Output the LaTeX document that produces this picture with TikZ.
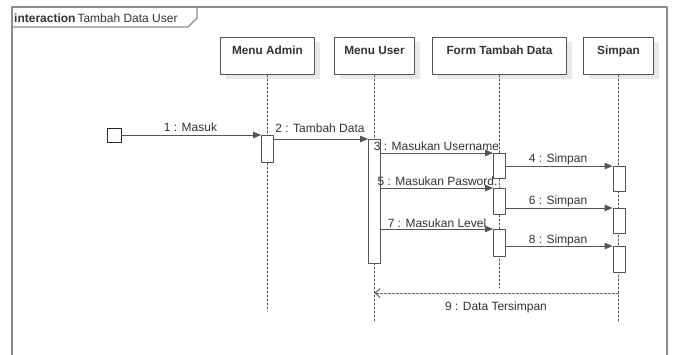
\documentclass[tikz,border=0pt]{standalone}
\usepackage{fontspec}
\setmainfont{Liberation Sans}
\usetikzlibrary{arrows.meta,shadows}
\definecolor{qqline}{rgb}{0.33,0.33,0.33}
\definecolor{qqtext}{rgb}{0.2,0.2,0.2}
\definecolor{qqframe}{rgb}{0.55,0.55,0.55}

\begin{document}
\begin{tikzpicture}[line cap=round,line join=round,>={Triangle[length=8pt,width=6.5pt]},x=1pt,y=-1pt,
    head/.style={draw=qqline,fill=white,line width=0.9pt,anchor=north,inner xsep=4pt,inner ysep=8pt,
      text height=9pt,text depth=12pt,font=\bfseries\fontsize{11.8}{14}\selectfont,text=qqtext,
      drop shadow={shadow xshift=5pt,shadow yshift=-5pt,fill=black!9,opacity=1}},
    act/.style={draw=qqline,fill=white,line width=0.9pt,minimum width=12pt,inner sep=0pt,anchor=north},
    life/.style={draw=qqline,dash pattern=on 2pt off 2pt,line width=0.8pt},
    msg/.style={draw=qqline,line width=0.9pt,->},
    lbl/.style={font=\fontsize{12}{14}\selectfont,text=qqtext,anchor=base,inner sep=0pt}]
	\fill[white] (0,0) rectangle (673,354);
	\useasboundingbox (0,0) rectangle (673,354);
	% frame
	\draw[qqframe,line width=1.5pt] (12,358) -- (12,7) -- (667,7) -- (667,358);
	\draw[qqframe,line width=1.1pt] (12,27) -- (188,27) -- (197,18) -- (197,7);
	\node[anchor=base west,inner sep=0pt,font=\fontsize{12}{14}\selectfont,text=qqtext] (title) at (14,22)
	  {\textbf{interaction}\hspace{2pt}Tambah Data User};
	% lifelines
	\node[head,minimum width=94pt] (hAdmin) at (267.5,37) {Menu Admin};
	\node[head,minimum width=80pt] (hUser) at (374.5,37) {Menu User};
	\node[head,minimum width=134pt] (hForm) at (499.5,37) {Form Tambah Data};
	\node[head,minimum width=70pt] (hSimpan) at (618.5,37) {Simpan};
	\draw[life] (hAdmin.south) -- ++(0,236);
	\draw[life] (hUser.south) -- ++(0,246);
	\draw[life] (hForm.south) -- ++(0,213);
	\draw[life] (hSimpan.south) -- ++(0,246);
	% activations
	\node[draw=black!85,fill=white,line width=0.9pt,minimum size=14pt,inner sep=0pt] (actor) at (114,135) {};
	\node[act,minimum height=27pt] (aAdmin) at (267.5,135) {};
	\node[act,minimum height=124pt] (aUser) at (374.5,139) {};
	\node[act,minimum height=25pt] (aForm1) at (499.5,153) {};
	\node[act,minimum height=26pt] (aForm2) at (499.5,188) {};
	\node[act,minimum height=27pt] (aForm3) at (499.5,229) {};
	\node[act,minimum height=25pt] (aSimp1) at (619,166) {};
	\node[act,minimum height=25pt] (aSimp2) at (619,208) {};
	\node[act,minimum height=26pt] (aSimp3) at (619,246) {};
	% messages
	\draw[msg] (actor.east) -- (aAdmin.north west);
	\draw[msg] (aAdmin.east |- aUser.north) -- (aUser.north west);
	\draw[msg] (aUser.east |- aForm1.north) -- (aForm1.north west);
	\draw[msg] (aForm1.east |- aSimp1.north) -- (aSimp1.north west);
	\draw[msg] (aUser.east |- aForm2.north) -- (aForm2.north west);
	\draw[msg] (aForm2.east |- aSimp2.north) -- (aSimp2.north west);
	\draw[msg] (aUser.east |- aForm3.north) -- (aForm3.north west);
	\draw[msg] (aForm3.east |- aSimp3.north) -- (aSimp3.north west);
	\coordinate (ret9s) at (hSimpan.south |- 0,293);
	\coordinate (ret9e) at (hUser.south |- 0,293);
	\draw[life,-{Straight Barb[length=5pt,width=9pt,line width=0.9pt]}] (ret9s) -- (ret9e);
	% labels
	\node[lbl] (l1) at (190.5,131) {1 : Masuk};
	\node[lbl] (l2) at (320,132.5) {2 : Tambah Data};
	\node[lbl] (l3) at (436.5,150) {3 : Masukan Username};
	\node[lbl] (l4) at (558,162) {4 : Simpan};
	\node[lbl] (l5) at (437.5,185) {5 : Masukan Pasword.};
	\node[lbl] (l6) at (558,204) {6 : Simpan};
	\node[lbl] (l7) at (437,227) {7 : Masukan Level};
	\node[lbl] (l8) at (558,243) {8 : Simpan};
	\node[lbl] (l9) at (496,310) {9 : Data Tersimpan};
\end{tikzpicture}
\end{document}
